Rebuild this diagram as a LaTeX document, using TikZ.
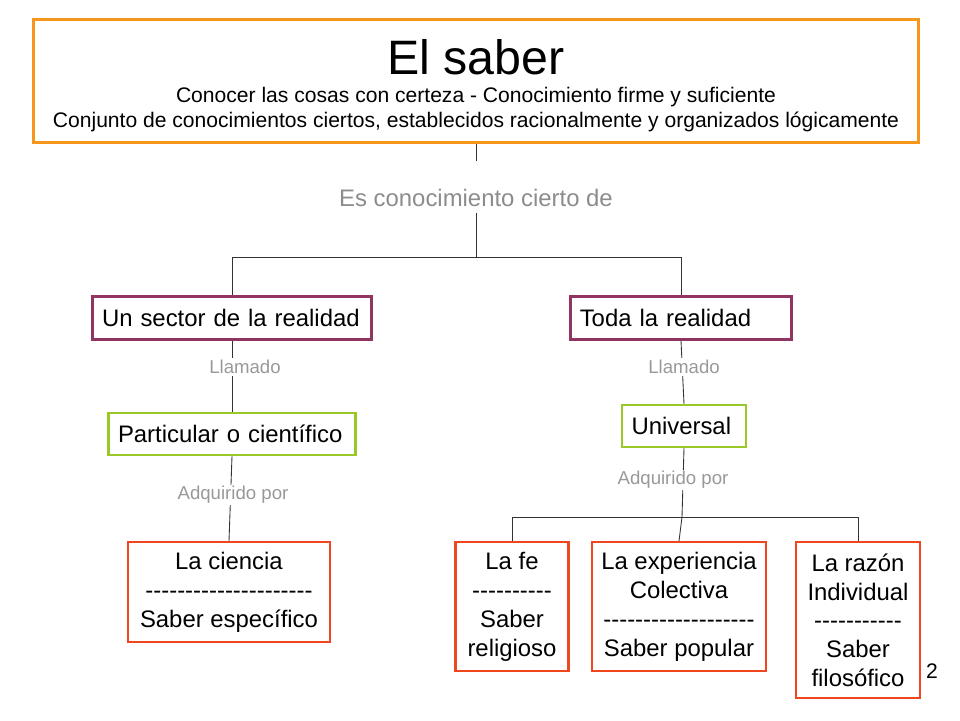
\documentclass[tikz,border=0pt]{standalone}
\usepackage{fontspec}
\setmainfont[Ligatures=TeXOff]{Liberation Sans}
\usepackage{xcolor}
\usetikzlibrary{positioning}
\definecolor{orangeb}{RGB}{247,150,29}
\definecolor{purpleb}{RGB}{146,52,98}
\definecolor{greenb}{RGB}{154,200,40}
\definecolor{redb}{RGB}{240,70,30}
\begin{document}
\begin{tikzpicture}[
    x=0.02cm, y=-0.02cm,
    box/.style={rectangle, draw, line width=1.4pt, inner sep=2pt, align=center, font=\fontsize{13.6}{16.4}\selectfont},
    sector/.style={box, draw=purpleb, minimum height=0.86cm, align=left, inner xsep=5pt},
    kind/.style={box, draw=greenb, minimum height=0.84cm, align=left, inner xsep=5pt},
    source/.style={box, draw=redb, anchor=north, inner ysep=4pt},
    lbl/.style={text=gray!80, font=\fontsize{10.6}{12}\selectfont, fill=white, inner sep=1pt},
    link/.style={draw=black!80, line width=0.5pt}
]
    \useasboundingbox (0,0) rectangle (960,720);
    \node[box, draw=orangeb, line width=1.8pt, minimum width=17.7cm, minimum height=2.46cm] (saber) at (476,81) {};
    \node[font=\fontsize{27.5}{32}\selectfont] (title) at (476,57) {El saber};
    \node[font=\fontsize{12}{14}\selectfont] (sub1) at (476,97) {Conocer las cosas con certeza - Conocimiento firme y suficiente};
    \node[font=\fontsize{12}{14}\selectfont] (sub2) at (476,122) {Conjunto de conocimientos ciertos, establecidos racionalmente y organizados lógicamente};
    \node[text=gray!90, font=\fontsize{13.6}{16}\selectfont] (es) at (476,198) {Es conocimiento cierto de};

    \node[sector, minimum width=5.58cm, text width=5.2cm] (sector) at (232,318) {Un sector de la realidad};
    \node[sector, minimum width=4.42cm, text width=4.05cm] (toda) at (681,318) {Toda la realidad};
    \node[kind, minimum width=4.94cm, text width=4.56cm] (part) at (232,434) {Particular o científico};
    \node[kind, minimum width=2.48cm, text width=2.1cm] (univ) at (684,426) {Universal};

    \node[source, minimum width=4.04cm, minimum height=2.0cm] (ciencia) at (229,541) {La ciencia\\---------------------\\Saber específico};
    \node[source, minimum width=2.26cm, minimum height=2.58cm] (fe) at (512,541) {La fe\\----------\\Saber\\religioso};
    \node[source, minimum width=3.48cm, minimum height=2.58cm] (exp) at (679,541) {La experiencia\\Colectiva\\-------------------\\Saber popular};
    \node[source, minimum width=2.48cm, minimum height=3.12cm] (razon) at (858,541) {La razón\\Individual\\-----------\\Saber\\filosófico};

    \coordinate (top) at (476,257);
    \coordinate (fork) at (682,517);
    \draw[link] (saber.south) -- ++(0,17);
    \draw[link] (es.south) -- (top);
    \draw[link] (top) -| (sector.north);
    \draw[link] (top) -| (toda.north);
    \draw[link] (sector.south) -- (part.north);
    \draw[link] (toda.south) -- (univ.north);
    \draw[link] (part.south) -- (ciencia.north);
    \draw[link] (univ.south) -- (fork);
    \draw[link] (fork) -| (fe.north);
    \draw[link] (fork) -- (exp.north);
    \draw[link] (fork) -| (razon.north);

    \node[lbl] (ll1) at (245,367) {Llamado};
    \node[lbl] (ll2) at (684,367) {Llamado};
    \node[lbl] (ad1) at (233,495) {Adquirido por};
    \node[lbl] (ad2) at (673,480) {Adquirido por};
    \node[font=\fontsize{12}{14}\selectfont] (page) at (932,671) {2};
\end{tikzpicture}
\end{document}
